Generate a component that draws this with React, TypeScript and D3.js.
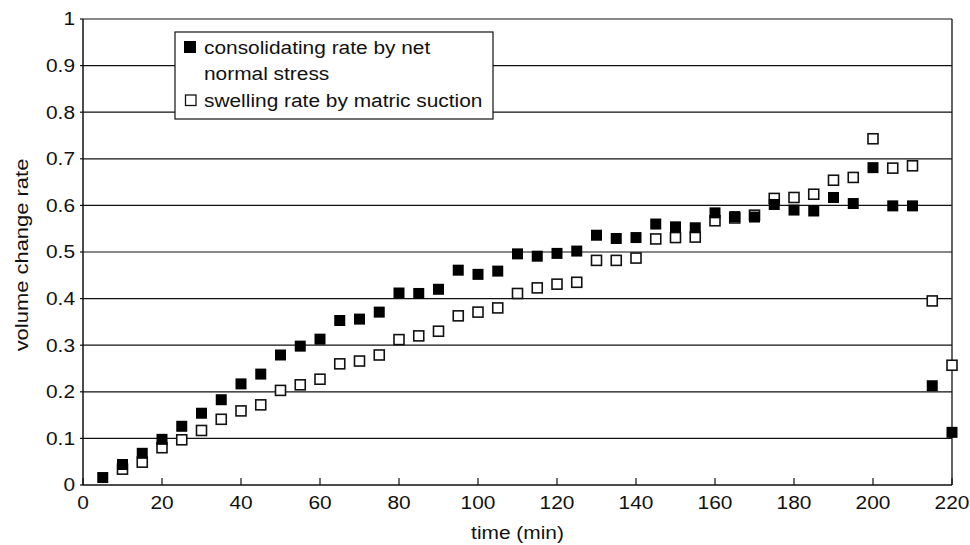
import React from "react";
import * as d3 from "d3";

const times = [5, 10, 15, 20, 25, 30, 35, 40, 45, 50, 55, 60, 65, 70, 75, 80, 85, 90, 95, 100, 105, 110, 115, 120, 125, 130, 135, 140, 145, 150, 155, 160, 165, 170, 175, 180, 185, 190, 195, 200, 205, 210, 215, 220];

const consolidating = [0.016, 0.044, 0.068, 0.098, 0.126, 0.154, 0.183, 0.217, 0.238, 0.279, 0.298, 0.313, 0.353, 0.356, 0.371, 0.412, 0.411, 0.42, 0.461, 0.452, 0.459, 0.496, 0.491, 0.497, 0.502, 0.536, 0.529, 0.531, 0.56, 0.554, 0.552, 0.584, 0.576, 0.575, 0.602, 0.59, 0.588, 0.617, 0.604, 0.681, 0.599, 0.599, 0.213, 0.113];

const swelling = [null, 0.034, 0.049, 0.08, 0.097, 0.117, 0.141, 0.159, 0.172, 0.203, 0.215, 0.227, 0.26, 0.266, 0.279, 0.312, 0.32, 0.33, 0.363, 0.371, 0.38, 0.411, 0.423, 0.431, 0.435, 0.482, 0.482, 0.487, 0.528, 0.531, 0.532, 0.567, 0.573, 0.579, 0.615, 0.617, 0.624, 0.654, 0.66, 0.743, 0.68, 0.685, 0.395, 0.257];

const xTicks = [0, 20, 40, 60, 80, 100, 120, 140, 160, 180, 200, 220];
const yTicks = [0, 0.1, 0.2, 0.3, 0.4, 0.5, 0.6, 0.7, 0.8, 0.9, 1];

const legendLabels = ["consolidating rate by net", "normal stress", "swelling rate by matric suction"];
const xTitle = "time (min)";
const yTitle = "volume change rate";

const SX = 1.16;

function T(props: { x: number; y: number; anchor?: string; dy?: string; size?: number; rot?: boolean; sx?: number; children: any }) {
  const { x, y, anchor = "start", dy, size = 18, rot = false, sx = SX, children } = props;
  const tr = `translate(${x},${y})${rot ? " rotate(-90)" : ""} scale(${sx},1)`;
  return (
    <text transform={tr} textAnchor={anchor} dy={dy} fontSize={size} fill="#111">
      {children}
    </text>
  );
}

export default function App() {
  const W = 970, H = 545;
  const left = 83, right = 952, top = 19, bottom = 485;
  const x = d3.scaleLinear().domain([0, 220]).range([left, right]);
  const y = d3.scaleLinear().domain([0, 1]).range([bottom, top]);
  const font = "'Liberation Sans', Arial, Helvetica, sans-serif";

  return (
    <svg width={W} height={H} style={{ position: "absolute", left: 0, top: 0, background: "#fff" }} fontFamily={font}>
      <rect x={0} y={0} width={W} height={H} fill="#fff" />
      {yTicks.filter((t) => t > 0).map((t) => (
        <line key={"g" + t} x1={left} x2={right} y1={y(t)} y2={y(t)} stroke="#111" strokeWidth={1.2} />
      ))}
      <line x1={right} x2={right} y1={top} y2={bottom} stroke="#111" strokeWidth={1.3} />
      <line x1={left} x2={left} y1={top} y2={bottom} stroke="#111" strokeWidth={1.5} />
      <line x1={left} x2={right} y1={bottom} y2={bottom} stroke="#111" strokeWidth={1.5} />
      {yTicks.map((t) => (
        <g key={"y" + t}>
          <line x1={left - 3} x2={left} y1={y(t)} y2={y(t)} stroke="#111" strokeWidth={1.2} />
          <T x={75} y={y(t)} dy="0.35em" anchor="end">{String(t)}</T>
        </g>
      ))}
      {xTicks.map((t) => (
        <g key={"x" + t}>
          <line x1={x(t)} x2={x(t)} y1={bottom} y2={bottom - 7} stroke="#111" strokeWidth={1.2} />
          <T x={x(t)} y={509} anchor="middle">{String(t)}</T>
        </g>
      ))}
      <T x={(left + right) / 2} y={539} anchor="middle">{xTitle}</T>
      <T x={28} y={255} anchor="middle" rot sx={1.22}>{yTitle}</T>
      {times.map((t, i) =>
        swelling[i] == null ? null : (
          <rect key={"s" + t} x={x(t) - 5} y={y(swelling[i] as number) - 5} width={10} height={10} fill="#fff" stroke="#111" strokeWidth={1.6} />
        )
      )}
      {times.map((t, i) => (
        <rect key={"c" + t} x={x(t) - 5.5} y={y(consolidating[i]) - 5.5} width={11} height={11} fill="#000" />
      ))}
      <rect x={175} y={32} width={318} height={87} fill="#fff" stroke="#111" strokeWidth={1.2} />
      <rect x={184} y={41} width={12} height={12} fill="#000" />
      <T x={204} y={54}>{legendLabels[0]}</T>
      <T x={204} y={80}>{legendLabels[1]}</T>
      <rect x={185.5} y={95} width={10.5} height={10.5} fill="#fff" stroke="#111" strokeWidth={1.3} />
      <T x={204} y={107}>{legendLabels[2]}</T>
    </svg>
  );
}
